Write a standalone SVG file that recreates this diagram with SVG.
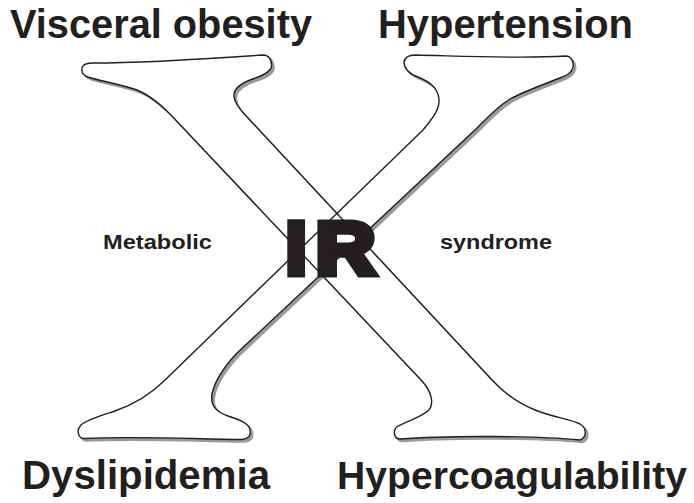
<svg xmlns="http://www.w3.org/2000/svg" width="694" height="503" viewBox="0 0 694 503">
  <style>
    .lbl { font-family: "Liberation Sans", Arial, sans-serif; font-weight: bold; fill: #231f20; }
    .big { font-size: 41px; }
    .big2 { font-size: 39px; }
    .mid { font-size: 21px; }
    .ir { font-family: "Liberation Sans", Arial, sans-serif; font-weight: bold; font-size: 75px; fill: #231f20; stroke: #231f20; stroke-width: 7; stroke-linejoin: miter; }
    .shadow { fill: #9a9a9a; stroke: #9a9a9a; stroke-width: 1.5; }
    .fill { fill: #ffffff; stroke: none; }
    .edge { fill: none; stroke: #231f20; stroke-width: 1.4; stroke-linejoin: round; }
  </style>
  <defs>
    <path id="strokeA" d="M 82,71 C 81,66 84,63.5 92,63 C 140,63 220,58 263,55 C 269,55 272,60 271.5,66 C 271.5,72 262,76 250,80 C 240,84 233,89 234,97 C 235,104 240,110 247,117 L 492,380 C 502,391 515,402 535,410 C 552,417 570,419 580,424 C 587,428 587,437 580,440 C 540,436 450,435 400,439 C 394,439 392,430 398,426 C 405,422 422,417 429,410 C 434,404 432,392 422,381 L 170,114 C 160,104 150,95 137,90 C 120,84 100,81 88,77 C 83,75 82,73 82,71 Z"/>
    <path id="strokeB" d="M 404,62 C 405,57 409,55 415,55 C 460,56 520,59 566,56 C 571,56 574,62 573,67 C 572,73 566,76 560,78 C 545,84 525,91 510,99 C 497,107 488,117 477,128 L 236,354 C 225,366 215,380 212,394 C 210,405 216,412 228,416 C 240,420 249,423 250,430 C 251,436 248,439 242,439.5 C 200,439 130,436 85,438.5 C 78,439 76,430 81,425 C 86,420 100,416 115,411 C 135,404 150,395 165,380 L 423,130 C 431,120 440,110 439,99 C 438,88 430,82 418,77 C 410,74 404,70 404,62 Z"/>
    <filter id="soft" x="-5%" y="-5%" width="110%" height="110%">
      <feGaussianBlur stdDeviation="0.6"/>
    </filter>
  </defs>
  <rect width="694" height="503" fill="#ffffff"/>

  <g id="x-shape">
    <g id="shadow" filter="url(#soft)" transform="translate(2.5,2.5)">
      <use href="#strokeA" class="shadow"/>
      <use href="#strokeB" class="shadow"/>
    </g>
    <g id="fills">
      <use href="#strokeA" class="fill"/>
      <use href="#strokeB" class="fill"/>
    </g>
    <g id="outlines">
      <use href="#strokeA" class="edge"/>
      <use href="#strokeB" class="edge"/>
    </g>
  </g>

  <g id="center-ir">
    <text class="ir" x="285.7" y="273.5">I</text>
    <text class="ir" transform="translate(315.8,273.5) scale(1.1,1)" x="0" y="0">R</text>
  </g>

  <g id="label-metabolic">
    <text class="lbl mid" x="103" y="249" textLength="109" lengthAdjust="spacingAndGlyphs">Metabolic</text>
  </g>
  <g id="label-syndrome">
    <text class="lbl mid" x="440" y="249" textLength="112" lengthAdjust="spacingAndGlyphs">syndrome</text>
  </g>

  <g id="node-visceral-obesity">
    <text class="lbl big" x="10" y="38" textLength="302" lengthAdjust="spacingAndGlyphs">Visceral obesity</text>
  </g>
  <g id="node-hypertension">
    <text class="lbl big" x="378" y="38" textLength="255" lengthAdjust="spacingAndGlyphs">Hypertension</text>
  </g>
  <g id="node-dyslipidemia">
    <text class="lbl big" x="22" y="489" textLength="248" lengthAdjust="spacingAndGlyphs">Dyslipidemia</text>
  </g>
  <g id="node-hypercoagulability">
    <text class="lbl big2" x="337" y="489" textLength="350" lengthAdjust="spacingAndGlyphs">Hypercoagulability</text>
  </g>
</svg>
